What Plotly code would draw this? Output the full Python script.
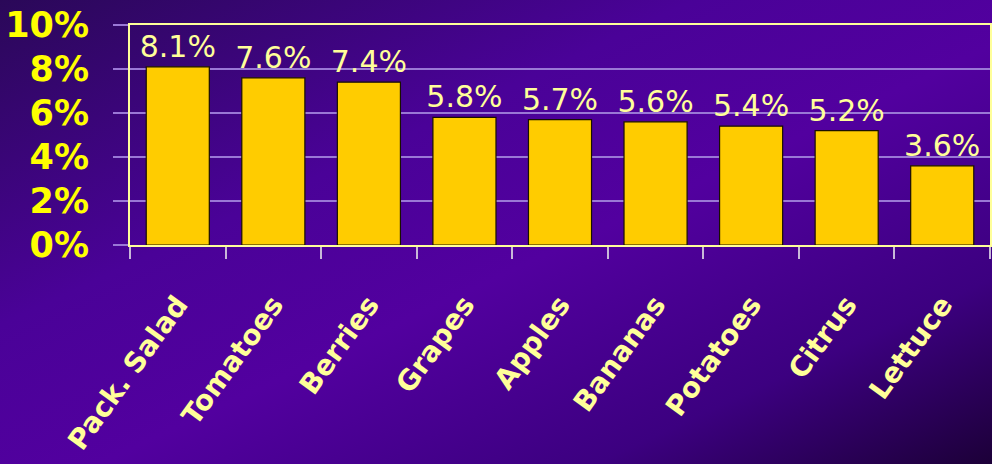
import base64
import plotly.graph_objects as go

categories = ["Pack. Salad", "Tomatoes", "Berries", "Grapes", "Apples",
              "Bananas", "Potatoes", "Citrus", "Lettuce"]
shares = [8.1, 7.6, 7.4, 5.8, 5.7, 5.6, 5.4, 5.2, 3.6]
y_ticks = [0, 2, 4, 6, 8, 10]
y_tick_labels = ["0%", "2%", "4%", "6%", "8%", "10%"]

FONT = "Comic Sans MS, DejaVu Sans, sans-serif"

# Diagonal purple gradient used as the slide background
svg = (
    '<svg xmlns="http://www.w3.org/2000/svg" width="992" height="464" preserveAspectRatio="none">'
    '<defs><linearGradient id="g" x1="0" y1="0" x2="1" y2="1">'
    '<stop offset="0" stop-color="#2a0858"/>'
    '<stop offset="0.35" stop-color="#4a0298"/>'
    '<stop offset="0.55" stop-color="#52009f"/>'
    '<stop offset="0.8" stop-color="#3c0080"/>'
    '<stop offset="1" stop-color="#1c0038"/>'
    '</linearGradient></defs>'
    '<rect width="992" height="464" fill="url(#g)"/></svg>'
)
bg_src = "data:image/svg+xml;base64," + base64.b64encode(svg.encode()).decode()

fig = go.Figure(
    go.Bar(
        x=categories,
        y=shares,
        width=0.66,
        marker=dict(color="#ffcc00", line=dict(color="#1a1000", width=1.2)),
        text=[f"{v:.1f}%" for v in shares],
        textposition="outside",
        constraintext="none",
        textfont=dict(family=FONT, size=30, color="#ffff99"),
        cliponaxis=False,
    )
)

# Plot area spans 860 x 220 px inside the 992 x 464 page
fig.update_layout(
    width=992,
    height=464,
    margin=dict(l=130, r=2, t=25, b=219, autoexpand=False),
    paper_bgcolor="#4a0098",
    plot_bgcolor="rgba(0,0,0,0)",
    showlegend=False,
    images=[dict(source=bg_src, xref="paper", yref="paper",
                 x=-130 / 860, y=1 + 25 / 220,
                 sizex=992 / 860, sizey=464 / 220,
                 xanchor="left", yanchor="top",
                 sizing="stretch", layer="below")],
)

fig.update_yaxes(
    range=[0, 10],
    tickvals=y_ticks,
    ticktext=y_tick_labels,
    tickfont=dict(family=FONT, size=35, color="#ffff00", weight="bold"),
    showgrid=True,
    gridcolor="#9a78d6",
    gridwidth=1.5,
    ticks="outside",
    ticklen=15,
    tickcolor="#9a78d6",
    tickwidth=1.5,
    showline=True,
    linecolor="#ffff99",
    linewidth=2,
    mirror=True,
    zeroline=False,
    automargin=False,
    ticklabelstandoff=17,
)
fig.update_xaxes(
    tickfont=dict(family=FONT, size=28, color="#ffff99", weight="bold"),
    tickangle=-54,
    ticks="outside",
    tickson="boundaries",
    ticklen=12,
    tickcolor="#c8b8d8",
    tickwidth=1.5,
    showline=True,
    linecolor="#ffff99",
    linewidth=2,
    mirror=True,
    automargin=False,
    ticklabelstandoff=30,
)

fig.write_html("out.html")
